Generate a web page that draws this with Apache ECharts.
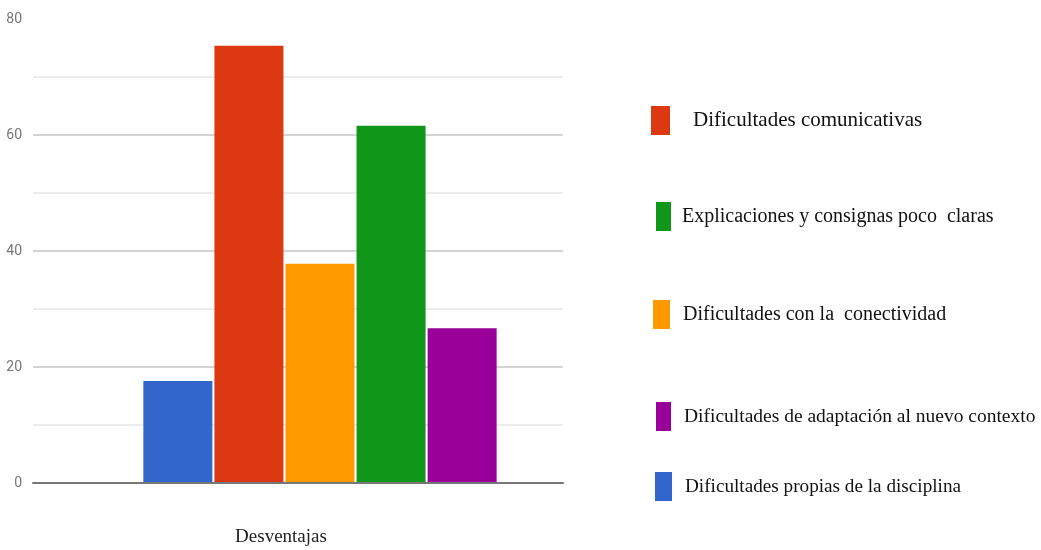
<!DOCTYPE html>
<html>
<head>
<meta charset="utf-8">
<script src="https://cdn.jsdelivr.net/npm/echarts@6/dist/echarts.min.js"></script>
<style>html,body{margin:0;padding:0;background:#fff}#c{width:1041px;height:550px}</style>
</head>
<body>
<div id="c"></div>
<script>
const categories = ['Desventajas'];
const seriesNames = [
  'Dificultades propias de la disciplina',
  'Dificultades comunicativas',
  'Dificultades con la  conectividad',
  'Explicaciones y consignas poco  claras',
  'Dificultades de adaptación al nuevo contexto'
];
const seriesValues = [17.6, 75.4, 37.8, 61.6, 26.7];
const seriesColors = ['#3366cc', '#dc3912', '#ff9900', '#109618', '#990099'];
const legendOrder = [1, 3, 2, 4, 0];
const legendTops = [106, 202, 300, 402, 472];
const legendLefts = [651, 656, 653, 656, 655];
const legendPads = [18, 6, 8, 8, 8];
const legendSizes = [21, 20, 20, 19.5, 19.2];
const legendWidths = [19, 15, 17, 15, 17];

const chart = echarts.init(document.getElementById('c'));

const legends = legendOrder.map((si, i) => ({
  show: true,
  data: [seriesNames[si]],
  left: legendLefts[i],
  top: legendTops[i],
  orient: 'vertical',
  padding: 0,
  itemWidth: legendWidths[i],
  itemHeight: 29,
  icon: 'rect',
  selectedMode: false,
  textStyle: {
    fontFamily: 'Liberation Serif',
    fontSize: legendSizes[i],
    color: '#111',
    padding: [0, 0, 0, legendPads[i]]
  }
}));

chart.setOption({
  animation: false,
  backgroundColor: '#fff',
  legend: legends,
  grid: [
    { left: 33, right: 478, top: 19, bottom: 67 },
    { left: 33, right: 434, top: 19, bottom: 67 }
  ],
  xAxis: [
    {
      gridIndex: 0, type: 'category', data: categories,
      axisLine: { show: true, lineStyle: { color: '#777', width: 2 } },
      axisTick: { show: false },
      axisLabel: {
        fontFamily: 'Liberation Serif', fontSize: 19, color: '#222',
        margin: 45, padding: [0, 34, 0, 0]
      },
      z: 5
    },
    {
      gridIndex: 1, type: 'category', data: categories,
      axisLine: { show: false }, axisTick: { show: false }, axisLabel: { show: false }
    }
  ],
  yAxis: [
    {
      gridIndex: 0, type: 'value', min: 0, max: 80, interval: 20,
      axisLine: { show: false }, axisTick: { show: false },
      axisLabel: {
        fontFamily: 'Liberation Sans Narrow, Roboto, sans-serif',
        fontSize: 14, color: '#777', margin: 11
      },
      splitLine: { show: true, lineStyle: { color: ['#d4d4d4', '#d4d4d4', '#d4d4d4', '#d4d4d4', 'rgba(0,0,0,0)'], width: 2 } },
      minorTick: { show: false, splitNumber: 2 },
      minorSplitLine: { show: true, lineStyle: { color: '#ececec', width: 2 } }
    },
    {
      gridIndex: 1, type: 'value', min: 0, max: 80, interval: 20, show: false,
      splitLine: { show: false }
    }
  ],
  series: seriesNames.map((name, i) => ({
    name: name,
    type: 'bar',
    xAxisIndex: 1,
    yAxisIndex: 1,
    data: [seriesValues[i]],
    barWidth: 69,
    barGap: '3%',
    itemStyle: { color: seriesColors[i] },
    z: 3
  }))
});
</script>
</body>
</html>
